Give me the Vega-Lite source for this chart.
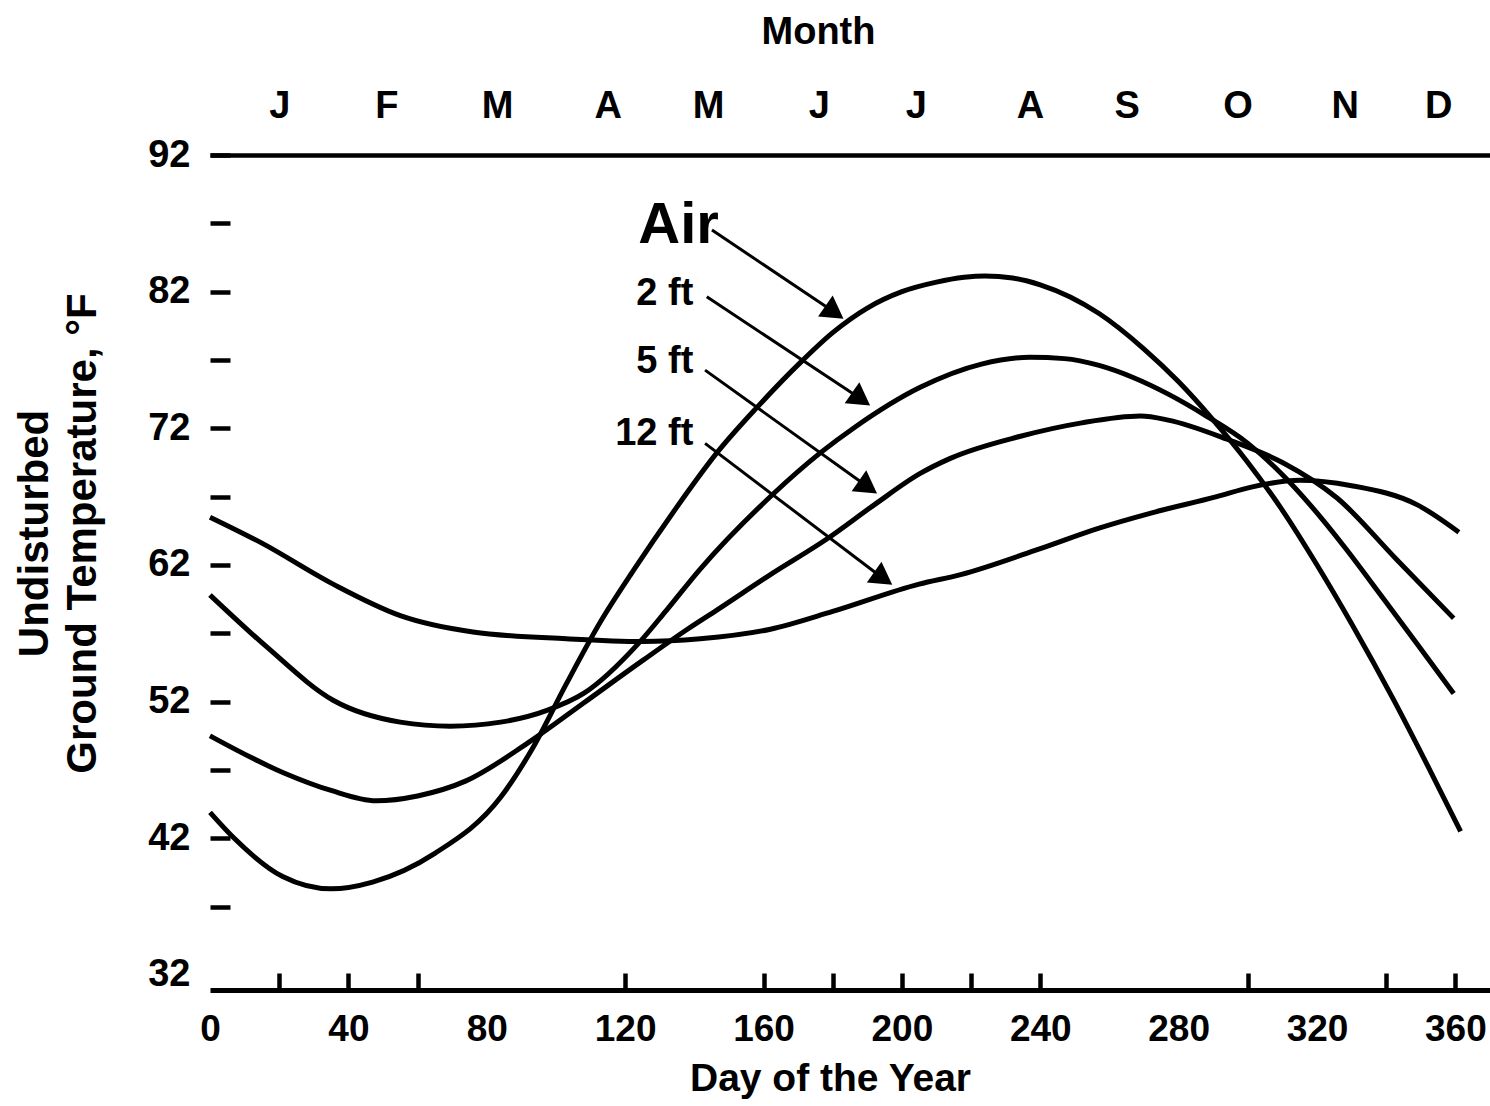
{
  "$schema": "https://vega.github.io/schema/vega-lite/v6.json",
  "width": 1280,
  "height": 835,
  "autosize": {"type": "none"},
  "padding": {"left": 210, "top": 155, "right": 0, "bottom": 116},
  "background": "white",
  "config": {
    "view": {"stroke": null},
    "font": "Liberation Sans",
    "axis": {
      "labelFont": "Liberation Sans",
      "titleFont": "Liberation Sans",
      "labelFontWeight": "bold",
      "titleFontWeight": "bold",
      "labelColor": "black",
      "titleColor": "black",
      "domainColor": "black",
      "tickColor": "black",
      "grid": false,
      "labelOverlap": false,
      "labelFlush": false
    }
  },
  "layer": [
    {
      "layer": [
        {
          "data": {
            "values": [
              {"series": "Air", "day": 0, "temp": 43.9},
              {"series": "Air", "day": 7, "temp": 42.0},
              {"series": "Air", "day": 21, "temp": 39.2},
              {"series": "Air", "day": 35, "temp": 38.3},
              {"series": "Air", "day": 47, "temp": 38.8},
              {"series": "Air", "day": 65, "temp": 40.9},
              {"series": "Air", "day": 84, "temp": 45.0},
              {"series": "Air", "day": 93.5, "temp": 48.7},
              {"series": "Air", "day": 103, "temp": 53.3},
              {"series": "Air", "day": 113, "temp": 57.9},
              {"series": "Air", "day": 122.4, "temp": 61.6},
              {"series": "Air", "day": 134, "temp": 65.9},
              {"series": "Air", "day": 146.5, "temp": 70.2},
              {"series": "Air", "day": 158, "temp": 73.5},
              {"series": "Air", "day": 171, "temp": 76.9},
              {"series": "Air", "day": 180, "temp": 79.0},
              {"series": "Air", "day": 190, "temp": 80.8},
              {"series": "Air", "day": 200, "temp": 82.0},
              {"series": "Air", "day": 210, "temp": 82.7},
              {"series": "Air", "day": 218, "temp": 83.05},
              {"series": "Air", "day": 224, "temp": 83.15},
              {"series": "Air", "day": 232, "temp": 83.0},
              {"series": "Air", "day": 240, "temp": 82.5},
              {"series": "Air", "day": 257, "temp": 80.4},
              {"series": "Air", "day": 270, "temp": 77.8},
              {"series": "Air", "day": 280, "temp": 75.4},
              {"series": "Air", "day": 290, "temp": 72.6},
              {"series": "Air", "day": 300, "temp": 69.5},
              {"series": "Air", "day": 310, "temp": 66.0},
              {"series": "Air", "day": 320, "temp": 62.0},
              {"series": "Air", "day": 330, "temp": 57.7},
              {"series": "Air", "day": 342, "temp": 52.2},
              {"series": "Air", "day": 352, "temp": 47.3},
              {"series": "Air", "day": 361.5, "temp": 42.5},
              {"series": "2 ft", "day": 0, "temp": 59.8},
              {"series": "2 ft", "day": 16.4, "temp": 56.0},
              {"series": "2 ft", "day": 35.6, "temp": 52.1},
              {"series": "2 ft", "day": 55, "temp": 50.5},
              {"series": "2 ft", "day": 69.4, "temp": 50.2},
              {"series": "2 ft", "day": 84, "temp": 50.5},
              {"series": "2 ft", "day": 97.8, "temp": 51.4},
              {"series": "2 ft", "day": 108, "temp": 52.6},
              {"series": "2 ft", "day": 124, "temp": 56.3},
              {"series": "2 ft", "day": 132, "temp": 58.7},
              {"series": "2 ft", "day": 141.7, "temp": 61.7},
              {"series": "2 ft", "day": 162.4, "temp": 67.1},
              {"series": "2 ft", "day": 176.4, "temp": 70.2},
              {"series": "2 ft", "day": 186.5, "temp": 72.1},
              {"series": "2 ft", "day": 205.3, "temp": 75.0},
              {"series": "2 ft", "day": 223, "temp": 76.7},
              {"series": "2 ft", "day": 237, "temp": 77.2},
              {"series": "2 ft", "day": 247, "temp": 77.1},
              {"series": "2 ft", "day": 257, "temp": 76.6},
              {"series": "2 ft", "day": 267, "temp": 75.7},
              {"series": "2 ft", "day": 277, "temp": 74.5},
              {"series": "2 ft", "day": 288, "temp": 72.9},
              {"series": "2 ft", "day": 300, "temp": 70.9},
              {"series": "2 ft", "day": 310, "temp": 68.6},
              {"series": "2 ft", "day": 318, "temp": 66.4},
              {"series": "2 ft", "day": 328, "temp": 63.3},
              {"series": "2 ft", "day": 339, "temp": 59.6},
              {"series": "2 ft", "day": 349, "temp": 56.2},
              {"series": "2 ft", "day": 359.5, "temp": 52.6},
              {"series": "5 ft", "day": 0, "temp": 49.5},
              {"series": "5 ft", "day": 21.2, "temp": 46.8},
              {"series": "5 ft", "day": 35, "temp": 45.5},
              {"series": "5 ft", "day": 48, "temp": 44.75},
              {"series": "5 ft", "day": 60, "temp": 45.1},
              {"series": "5 ft", "day": 74, "temp": 46.2},
              {"series": "5 ft", "day": 92, "temp": 49.0},
              {"series": "5 ft", "day": 108, "temp": 51.9},
              {"series": "5 ft", "day": 125, "temp": 55.0},
              {"series": "5 ft", "day": 138, "temp": 57.3},
              {"series": "5 ft", "day": 146.5, "temp": 58.7},
              {"series": "5 ft", "day": 162, "temp": 61.3},
              {"series": "5 ft", "day": 178.3, "temp": 63.9},
              {"series": "5 ft", "day": 192, "temp": 66.4},
              {"series": "5 ft", "day": 205.3, "temp": 68.7},
              {"series": "5 ft", "day": 214, "temp": 69.8},
              {"series": "5 ft", "day": 234, "temp": 71.4},
              {"series": "5 ft", "day": 252, "temp": 72.4},
              {"series": "5 ft", "day": 269, "temp": 72.9},
              {"series": "5 ft", "day": 277, "temp": 72.6},
              {"series": "5 ft", "day": 294, "temp": 71.2},
              {"series": "5 ft", "day": 310, "temp": 69.5},
              {"series": "5 ft", "day": 325.8, "temp": 66.9},
              {"series": "5 ft", "day": 343, "temp": 62.4},
              {"series": "5 ft", "day": 359.5, "temp": 58.1},
              {"series": "12 ft", "day": 0, "temp": 65.5},
              {"series": "12 ft", "day": 15, "temp": 63.6},
              {"series": "12 ft", "day": 35.6, "temp": 60.6},
              {"series": "12 ft", "day": 55, "temp": 58.3},
              {"series": "12 ft", "day": 76, "temp": 57.1},
              {"series": "12 ft", "day": 103, "temp": 56.6},
              {"series": "12 ft", "day": 125, "temp": 56.4},
              {"series": "12 ft", "day": 141.7, "temp": 56.6},
              {"series": "12 ft", "day": 162, "temp": 57.3},
              {"series": "12 ft", "day": 180, "temp": 58.6},
              {"series": "12 ft", "day": 205, "temp": 60.6},
              {"series": "12 ft", "day": 217, "temp": 61.3},
              {"series": "12 ft", "day": 240, "temp": 63.2},
              {"series": "12 ft", "day": 257, "temp": 64.7},
              {"series": "12 ft", "day": 272, "temp": 65.8},
              {"series": "12 ft", "day": 291, "temp": 67.0},
              {"series": "12 ft", "day": 301, "temp": 67.7},
              {"series": "12 ft", "day": 315, "temp": 68.2},
              {"series": "12 ft", "day": 330, "temp": 67.8},
              {"series": "12 ft", "day": 349, "temp": 66.4},
              {"series": "12 ft", "day": 361, "temp": 64.4}
            ]
          },
          "mark": {"type": "line", "interpolate": "monotone", "strokeWidth": 5, "color": "black", "strokeCap": "butt"},
          "encoding": {
            "x": {
              "field": "day", "type": "quantitative",
              "scale": {"domain": [0, 370], "nice": false, "zero": false},
              "axis": {
                "orient": "bottom",
                "values": [0, 20, 40, 60, 80, 120, 160, 180, 200, 220, 240, 280, 300, 320, 340, 360],
                "labelExpr": "datum.value % 40 == 0 ? datum.label : ''",
                "tickOpacity": {"condition": {"test": "datum.value == 0 || datum.value == 80 || datum.value == 280 || datum.value == 320", "value": 0}, "value": 1},
                "tickSize": -17,
                "tickWidth": 4.5,
                "labelPadding": 38,
                "labelFontSize": 37,
                "domainWidth": 5,
                "title": "Day of the Year",
                "titleFontSize": 39,
                "titleX": 620,
                "titleY": 69,
                "titleBaseline": "top"
              }
            },
            "y": {
              "field": "temp", "type": "quantitative",
              "scale": {"domain": [30.9, 92], "nice": false, "zero": false},
              "axis": {
                "orient": "left",
                "values": [32, 37, 42, 47, 52, 57, 62, 67, 72, 77, 82, 87, 92],
                "labelExpr": "datum.value % 10 == 2 ? datum.label : ''",
                "tickOpacity": {"condition": {"test": "datum.value == 32", "value": 0}, "value": 1},
                "domain": false,
                "tickSize": -20,
                "tickWidth": 4.5,
                "labelPadding": 40,
                "labelFontSize": 38,
                "title": ["Undisturbed", "Ground Temperature, °F"],
                "titleFontSize": 42,
                "titleLineHeight": 48,
                "titleX": -154,
                "titleY": 378,
                "titleAngle": -90,
                "titleBaseline": "bottom"
              }
            },
            "detail": {"field": "series"}
          }
        },
        {
          "data": {"values": [{"label": "Air", "day": 123.8, "temp": 85.54}]},
          "mark": {"type": "text", "align": "left", "baseline": "alphabetic", "fontSize": 58, "fontWeight": "bold", "font": "Liberation Sans", "color": "black"},
          "encoding": {
            "x": {"field": "day", "type": "quantitative", "scale": {"domain": [0, 370], "nice": false, "zero": false}},
            "y": {"field": "temp", "type": "quantitative", "scale": {"domain": [30.9, 92], "nice": false, "zero": false}},
            "text": {"field": "label"}
          }
        },
        {
          "data": {"values": [
            {"label": "2 ft", "day": 139.7, "temp": 81.02},
            {"label": "5 ft", "day": 139.7, "temp": 76.04},
            {"label": "12 ft", "day": 139.7, "temp": 70.77}
          ]},
          "mark": {"type": "text", "align": "right", "baseline": "alphabetic", "fontSize": 38, "fontWeight": "bold", "font": "Liberation Sans", "color": "black"},
          "encoding": {
            "x": {"field": "day", "type": "quantitative", "scale": {"domain": [0, 370], "nice": false, "zero": false}},
            "y": {"field": "temp", "type": "quantitative", "scale": {"domain": [30.9, 92], "nice": false, "zero": false}},
            "text": {"field": "label"}
          }
        }
      ]
    },
    {
      "data": {"values": [
        {"label": "Air", "day": 145.1, "temp": 86.51, "day2": 180.5, "temp2": 80.49},
        {"label": "2 ft", "day": 143.6, "temp": 81.63, "day2": 188.2, "temp2": 74.14},
        {"label": "5 ft", "day": 143.1, "temp": 76.26, "day2": 190.2, "temp2": 67.70},
        {"label": "12 ft", "day": 143.1, "temp": 70.90, "day2": 194.6, "temp2": 61.01}
      ]},
      "layer": [
        {
          "mark": {"type": "rule", "strokeWidth": 3, "color": "black"},
          "encoding": {
            "x": {
              "field": "day", "type": "quantitative",
              "scale": {"domain": [0, 370], "nice": false, "zero": false},
              "axis": {
                "orient": "top",
                "values": [20, 51, 83, 115, 144, 176, 204, 237, 265, 297, 328, 355],
                "labelExpr": "['J','F','M','A','M','J','J','A','S','O','N','D'][indexof([20,51,83,115,144,176,204,237,265,297,328,355], datum.value)]",
                "ticks": false,
                "labelPadding": 30,
                "labelFontSize": 38,
                "domainWidth": 4.5,
                "title": "Month",
                "titleFontSize": 38,
                "titleX": 608,
                "titleY": -104,
                "titleBaseline": "bottom"
              }
            },
            "y": {"field": "temp", "type": "quantitative", "scale": {"domain": [30.9, 92], "nice": false, "zero": false}},
            "x2": {"field": "day2"},
            "y2": {"field": "temp2"}
          }
        },
        {
          "mark": {"type": "point", "shape": "triangle-right", "filled": true, "size": 650, "angle": 35, "color": "black", "opacity": 1},
          "encoding": {
            "x": {"field": "day2", "type": "quantitative", "scale": {"domain": [0, 370], "nice": false, "zero": false}},
            "y": {"field": "temp2", "type": "quantitative", "scale": {"domain": [30.9, 92], "nice": false, "zero": false}}
          }
        }
      ]
    }
  ],
  "resolve": {"axis": {"x": "independent"}}
}
